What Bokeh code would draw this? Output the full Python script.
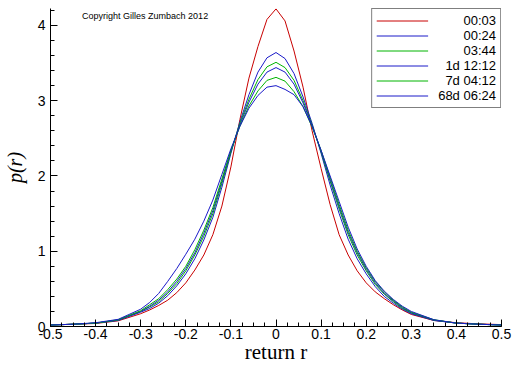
from bokeh.plotting import figure
from bokeh.models import Range1d, FixedTicker, Label, Legend, LegendItem, NumeralTickFormatter
from bokeh.embed import file_html
from bokeh.resources import INLINE

# ---- data -------------------------------------------------------------
r_vals = [-0.5, -0.45, -0.4, -0.35, -0.3, -0.28, -0.26, -0.24, -0.22, -0.2,
          -0.18, -0.16, -0.14, -0.12, -0.1, -0.08, -0.06, -0.04, -0.02, 0.0,
          0.02, 0.04, 0.06, 0.08, 0.1, 0.12, 0.14, 0.16, 0.18, 0.2,
          0.22, 0.24, 0.26, 0.28, 0.3, 0.35, 0.4, 0.45, 0.5]

p_0003 = [0.02, 0.03, 0.04, 0.075, 0.17, 0.22, 0.28, 0.35, 0.45, 0.58,
          0.75, 0.95, 1.22, 1.6, 2.12, 2.75, 3.3, 3.72, 4.08, 4.22,
          4.06, 3.66, 3.18, 2.6, 2.1, 1.62, 1.22, 0.95, 0.74, 0.58,
          0.46, 0.37, 0.29, 0.22, 0.16, 0.08, 0.05, 0.035, 0.025]
p_0024 = [0.02, 0.03, 0.045, 0.08, 0.19, 0.24, 0.31, 0.41, 0.54, 0.7,
          0.9, 1.15, 1.45, 1.85, 2.3, 2.72, 3.08, 3.38, 3.57, 3.64,
          3.56, 3.36, 3.05, 2.7, 2.3, 1.88, 1.5, 1.16, 0.9, 0.7,
          0.53, 0.4, 0.31, 0.23, 0.17, 0.08, 0.045, 0.03, 0.02]
p_0344 = [0.02, 0.03, 0.045, 0.085, 0.2, 0.26, 0.33, 0.44, 0.57, 0.74,
          0.95, 1.2, 1.5, 1.9, 2.32, 2.7, 3.02, 3.28, 3.45, 3.51,
          3.44, 3.27, 3.0, 2.68, 2.32, 1.93, 1.56, 1.22, 0.95, 0.74,
          0.56, 0.43, 0.33, 0.24, 0.18, 0.085, 0.045, 0.03, 0.02]
p_1d = [0.02, 0.03, 0.045, 0.085, 0.2, 0.27, 0.35, 0.46, 0.6, 0.77,
        0.98, 1.24, 1.54, 1.93, 2.33, 2.68, 2.98, 3.22, 3.38, 3.44,
        3.38, 3.22, 2.97, 2.67, 2.33, 1.95, 1.59, 1.25, 0.98, 0.76,
        0.58, 0.44, 0.34, 0.25, 0.18, 0.085, 0.045, 0.03, 0.02]
p_7d = [0.02, 0.03, 0.045, 0.09, 0.21, 0.29, 0.37, 0.49, 0.63, 0.8,
        1.02, 1.28, 1.58, 1.96, 2.34, 2.66, 2.93, 3.13, 3.27, 3.31,
        3.26, 3.12, 2.92, 2.65, 2.34, 1.98, 1.62, 1.28, 1.0, 0.78,
        0.6, 0.46, 0.35, 0.26, 0.19, 0.09, 0.045, 0.03, 0.02]
p_68d = [0.02, 0.03, 0.05, 0.095, 0.23, 0.32, 0.44, 0.6, 0.77, 0.96,
         1.16, 1.4, 1.68, 2.02, 2.36, 2.66, 2.9, 3.07, 3.18, 3.2,
         3.15, 3.08, 2.92, 2.66, 2.34, 2.0, 1.66, 1.32, 1.03, 0.8,
         0.61, 0.47, 0.36, 0.27, 0.2, 0.09, 0.045, 0.03, 0.02]

series_labels = ["00:03", "00:24", "03:44", "1d 12:12", "7d 04:12", "68d 06:24"]
series_values = [p_0003, p_0024, p_0344, p_1d, p_7d, p_68d]
series_colors = ["#c80000", "#1a1ac8", "#00b400", "#1a1ac8", "#00b400", "#1a1ac8"]

x_ticks = [-0.5, -0.4, -0.3, -0.2, -0.1, 0, 0.1, 0.2, 0.3, 0.4, 0.5]
x_tick_labels = ["-0.5", "-0.4", "-0.3", "-0.2", "-0.1", "0", "0.1", "0.2", "0.3", "0.4", "0.5"]
y_ticks = [0, 1, 2, 3, 4]
y_tick_labels = ["0", "1", "2", "3", "4"]

# ---- figure -----------------------------------------------------------
p = figure(width=512, height=366, output_backend="svg", toolbar_location=None,
           x_range=Range1d(-0.5, 0.5), y_range=Range1d(0, 4.225),
           min_border_left=46, min_border_right=11, min_border_top=8,
           min_border_bottom=39)
p.xgrid.visible = False
p.ygrid.visible = False
p.outline_line_color = None
p.background_fill_color = "white"
p.border_fill_color = "white"

x_minor = [round(-0.5 + 0.025 * i, 4) for i in range(41)]
y_minor = [round(0.2 * i, 4) for i in range(22)]
p.xaxis.ticker = FixedTicker(ticks=x_ticks, minor_ticks=x_minor)
p.yaxis.ticker = FixedTicker(ticks=y_ticks, minor_ticks=y_minor)
p.xaxis.formatter = NumeralTickFormatter(format="0.[0]")
p.xaxis.major_label_overrides = {t: l for t, l in zip(x_ticks, x_tick_labels)}
p.yaxis.major_label_overrides = {t: l for t, l in zip(y_ticks, y_tick_labels)}

for ax in (p.xaxis, p.yaxis):
    ax.axis_line_color = "black"
    ax.axis_line_width = 1
    ax.major_tick_line_color = "black"
    ax.minor_tick_line_color = "black"
    ax.major_tick_in = 7
    ax.major_tick_out = 0
    ax.minor_tick_in = 4
    ax.minor_tick_out = 0
    ax.major_label_text_font = "Liberation Sans"
    ax.major_label_text_font_size = "14px"
    ax.major_label_text_color = "black"
    ax.axis_label_text_font = "Liberation Serif"
    ax.axis_label_text_color = "black"
p.xaxis.major_label_standoff = 2
p.yaxis.major_label_standoff = 5

p.xaxis.axis_label = "return r"
p.xaxis.axis_label_text_font_style = "normal"
p.xaxis.axis_label_text_font_size = "21px"
p.xaxis.axis_label_standoff = -2
p.yaxis.axis_label = "p(r)"
p.yaxis.axis_label_text_font_style = "italic"
p.yaxis.axis_label_text_font_size = "20px"
p.yaxis.axis_label_standoff = 9

items = []
max_units = max(sum(2 if c not in ": " else 1 for c in s) for s in series_labels)
for lab, vals, col in zip(series_labels, series_values, series_colors):
    rnd = p.line(r_vals, vals, line_color=col, line_width=1)
    units = sum(2 if c not in ": " else 1 for c in lab)
    items.append(LegendItem(label="\u00a0" * (max_units - units) + lab, renderers=[rnd]))

legend = Legend(items=items, location="top_right",
                glyph_width=52, glyph_height=15, label_height=15, label_standoff=10,
                padding=4, spacing=0, margin=0,
                label_text_font="Liberation Sans", label_text_font_size="13px",
                label_text_color="black",
                border_line_color="black", border_line_width=1,
                background_fill_color="white", background_fill_alpha=1.0)
p.add_layout(legend)

p.add_layout(Label(x=-0.43, y=4.12, text="Copyright Gilles Zumbach 2012",
                   text_font="Liberation Sans", text_font_size="9px",
                   text_baseline="middle", text_color="black"))

open("out.html", "w").write(file_html(p, INLINE))
